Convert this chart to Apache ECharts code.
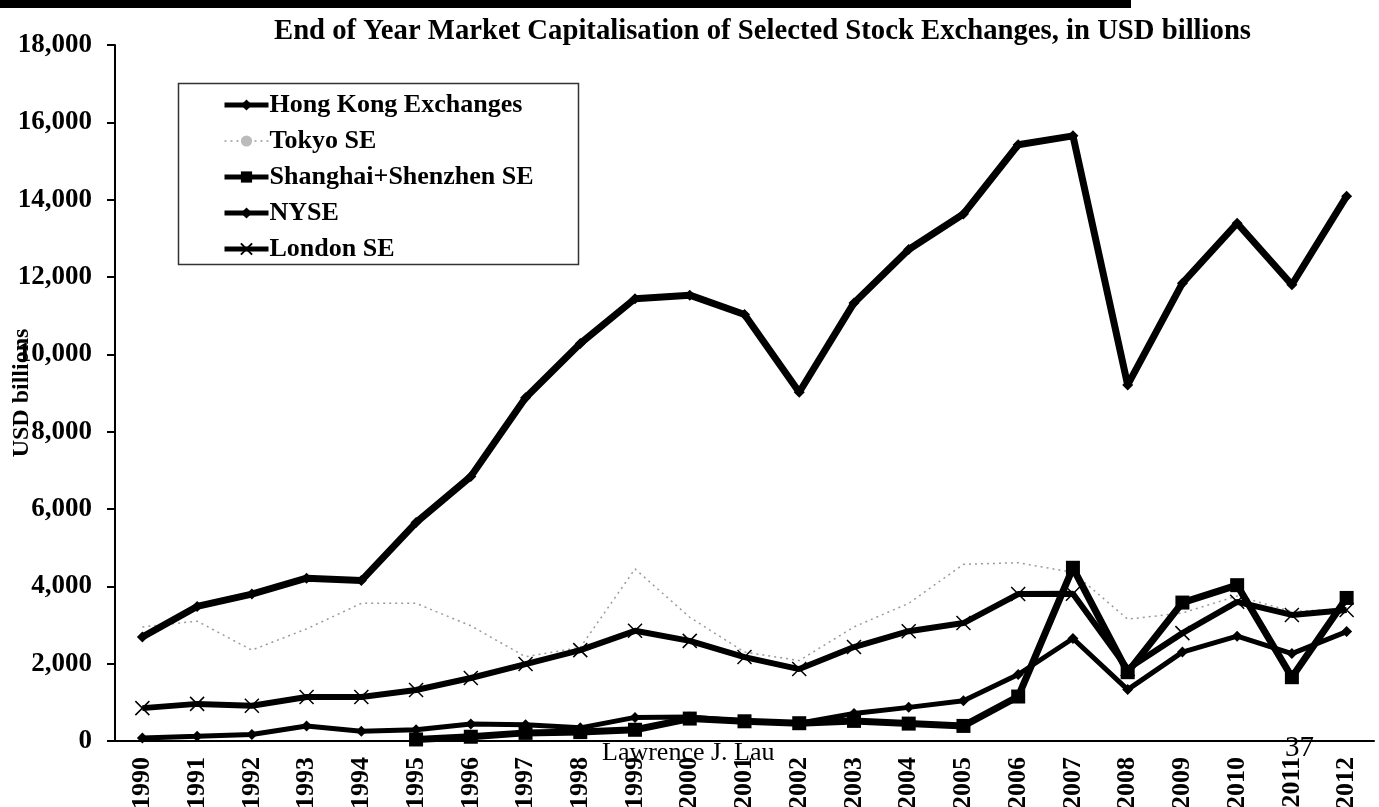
<!DOCTYPE html>
<html>
<head>
<meta charset="utf-8">
<script src="https://cdn.jsdelivr.net/npm/echarts@6/dist/echarts.min.js"></script>
<style>
  html, body { margin: 0; padding: 0; background: #fff; }
  #chart { width: 1379px; height: 807px; }
</style>
</head>
<body>
<div id="chart"></div>
<script>
(function() {
    'use strict';

    // 数据 (USD billions, 年末市值)
    var years = ['1990', '1991', '1992', '1993', '1994', '1995', '1996', '1997', '1998', '1999', '2000',
        '2001', '2002', '2003', '2004', '2005', '2006', '2007', '2008', '2009', '2010', '2011', '2012'];
    var hongKong = [80, 120, 170, 390, 250, 290, 440, 420, 340, 610, 620,
        510, 460, 710, 870, 1040, 1720, 2650, 1330, 2300, 2710, 2260, 2830];
    var tokyo = [2950, 3100, 2350, 2900, 3560, 3560, 2980, 2180, 2420, 4450, 3200,
        2300, 2080, 2950, 3560, 4570, 4610, 4360, 3150, 3310, 3750, 3350, 3420];
    var shanghaiShenzhen = [null, null, null, null, null, 40, 110, 210, 230, 290, 580,
        510, 460, 520, 450, 390, 1150, 4480, 1780, 3580, 4030, 1650, 3700];
    var nyse = [2690, 3480, 3800, 4210, 4150, 5650, 6840, 8880, 10280, 11440, 11530,
        11030, 9020, 11330, 12710, 13630, 15420, 15650, 9210, 11840, 13390, 11800, 14090];
    var london = [850, 960, 910, 1140, 1140, 1320, 1630, 1990, 2350, 2850, 2590,
        2170, 1860, 2430, 2840, 3050, 3800, 3810, 1860, 2790, 3600, 3260, 3390];

    var serif = '"Liberation Serif", "DejaVu Serif", serif';
    var crossPath = 'path://M0,0L10,10M10,0L0,10';

    var chart = echarts.init(document.getElementById('chart'));

    var option = {
        backgroundColor: '#fff',
        animation: false,
        title: {
            text: 'End of Year Market Capitalisation of Selected Stock Exchanges, in USD billions',
            left: 269,
            top: 12,
            textStyle: { fontFamily: serif, fontWeight: 'bold', fontSize: 28.7, color: '#000' }
        },
        legend: {
            orient: 'vertical',
            left: 222,
            top: 92,
            padding: 0,
            itemWidth: 44,
            itemHeight: 14,
            itemGap: 10,
            lineStyle: { width: 5 },
            textStyle: { fontFamily: serif, fontWeight: 'bold', fontSize: 26, color: '#000', lineHeight: 24, padding: [0, 0, 0, -4] },
            data: [
                'Hong Kong Exchanges',
                { name: 'Tokyo SE', lineStyle: { width: 1.5 } },
                'Shanghai+Shenzhen SE',
                'NYSE',
                'London SE'
            ]
        },
        grid: { left: 115, right: 5, top: 45, bottom: 66, outerBoundsMode: 'none', containLabel: false },
        xAxis: {
            type: 'category',
            data: years,
            axisLine: { lineStyle: { color: '#000', width: 2 } },
            axisTick: { length: 7, lineStyle: { color: '#000', width: 2 } },
            axisLabel: {
                rotate: 90, margin: 16, interval: 0,
                fontFamily: serif, fontWeight: 'bold', fontSize: 26, color: '#000'
            },
            splitLine: { show: false }
        },
        yAxis: {
            type: 'value',
            min: 0, max: 18000, interval: 2000,
            name: 'USD billions',
            nameLocation: 'middle',
            nameGap: 81,
            nameMoveOverlap: false,
            nameTextStyle: { fontFamily: serif, fontWeight: 'bold', fontSize: 24, color: '#000' },
            axisLine: { show: true, lineStyle: { color: '#000', width: 2 } },
            axisTick: { show: true, length: 8, lineStyle: { color: '#000', width: 2 } },
            axisLabel: {
                margin: 23,
                fontFamily: serif, fontWeight: 'bold', fontSize: 27, color: '#000',
                formatter: function(v) { return v.toLocaleString('en-US'); }
            },
            splitLine: { show: false }
        },
        series: [
            {
                name: 'Hong Kong Exchanges', type: 'line', data: hongKong,
                symbol: 'diamond', symbolSize: 11,
                lineStyle: { color: '#000', width: 5 },
                itemStyle: { color: '#000' }
            },
            {
                name: 'Tokyo SE', type: 'line', data: tokyo,
                symbol: 'circle', symbolSize: 1, showSymbol: false,
                lineStyle: { color: '#9a9a9a', width: 1.5, type: [2, 4] },
                itemStyle: { color: '#bbb' }
            },
            {
                name: 'Shanghai+Shenzhen SE', type: 'line', data: shanghaiShenzhen,
                symbol: 'rect', symbolSize: 14,
                lineStyle: { color: '#000', width: 7 },
                itemStyle: { color: '#000' }
            },
            {
                name: 'NYSE', type: 'line', data: nyse,
                symbol: 'diamond', symbolSize: 11,
                lineStyle: { color: '#000', width: 7 },
                itemStyle: { color: '#000' }
            },
            {
                name: 'London SE', type: 'line', data: london,
                symbol: crossPath, symbolSize: 14,
                lineStyle: { color: '#000', width: 6 },
                itemStyle: { color: '#000', borderColor: '#000', borderWidth: 1.5 }
            }
        ],
        graphic: [
            { type: 'rect', shape: { x: 0, y: 0, width: 1131, height: 8 }, style: { fill: '#000' } },
            { type: 'rect', z: -1, shape: { x: 178.5, y: 83.5, width: 400, height: 181 },
              style: { fill: '#fff', stroke: '#333', lineWidth: 1.5 } },
            { type: 'text', left: 602, top: 740, z: 100,
              style: { text: 'Lawrence J. Lau', font: '26px ' + serif, fill: '#000' } },
            { type: 'text', left: 1285, top: 734, z: 100,
              style: { text: '37', font: '29px ' + serif, fill: '#000' } }
        ]
    };

    chart.setOption(option);
    window.addEventListener('resize', chart.resize);
})();
</script>
</body>
</html>
